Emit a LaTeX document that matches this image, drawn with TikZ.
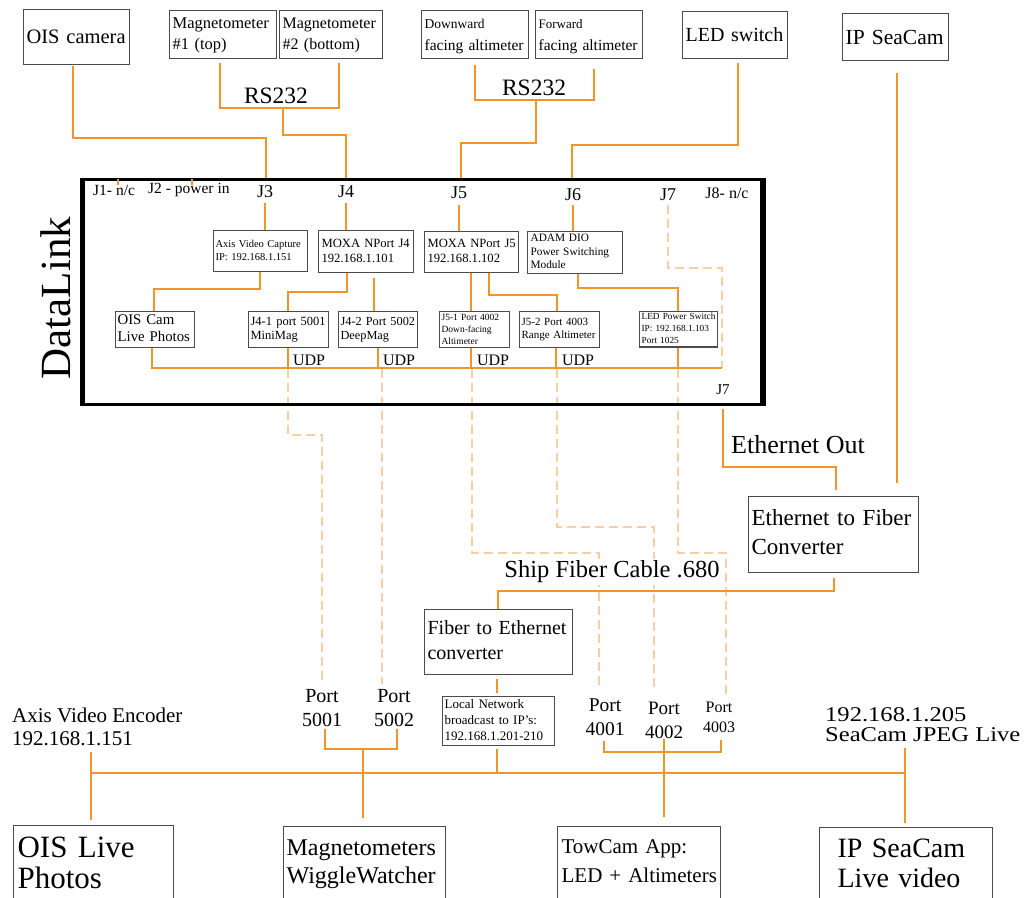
\documentclass[tikz,border=0pt]{standalone}
\usepackage{fontspec}
\usepackage{graphicx}
\setmainfont{Liberation Serif}
\definecolor{ol}{RGB}{240,150,40}
\definecolor{dl}{RGB}{246,208,165}
\definecolor{bd}{RGB}{75,75,75}
\newcommand\fz[2]{\fontsize{#1}{#2}\selectfont}
\newcommand\tl[1]{\begin{tabular}{@{}l@{}}#1\end{tabular}}
\begin{document}
\begin{tikzpicture}[x=1pt,y=-1pt,
  bx/.style={draw=bd, line width=1.2pt, anchor=north west, align=left, inner xsep=3pt, inner ysep=0pt, fill=white},
  wire/.style={draw=ol, line width=2.6pt},
  dwire/.style={draw=dl, line width=1.4pt, dash pattern=on 9pt off 5pt},
  lbl/.style={inner sep=0pt, align=center},
]
\useasboundingbox (0,0) rectangle (1024,897);

% ---------- dashed UDP routes ----------
\draw[dwire] (668,205) -- (668,268) -- (722,268) -- (722,368);
\draw[dwire] (288,369) -- (288,435) -- (322,435) -- (322,684);
\draw[dwire] (382,369) -- (382,684);
\draw[dwire] (472,369) -- (472,553) -- (599,553) -- (599,688);
\draw[dwire] (557,369) -- (557,527) -- (654,527) -- (654,688);
\draw[dwire] (678,369) -- (678,553) -- (726,553) -- (726,698);

% ---------- DataLink box ----------
\node[draw, line width=3pt, minimum width=678pt, minimum height=225pt, anchor=north west, inner sep=0pt] (dlink) at (82,178) {};
\draw[line width=5pt] (dlink.north west) -- (dlink.south west);
\draw[line width=5.5pt] (dlink.north east) -- (dlink.south east);
\node[rotate=90, anchor=base, font=\fz{43}{45}, inner sep=0pt] (dltitle) at (70,298) {DataLink};

% ---------- top devices ----------
\node[bx, text width=100pt, minimum height=55pt, font=\fz{20.5}{24}] (oiscam) at (23,9) {OIS camera};
\node[bx, text width=101pt, minimum height=48pt, font=\fz{16.5}{21}] (mag1) at (169,10) {\tl{Magnetometer\\\#1 (top)}};
\node[bx, text width=97pt, minimum height=48pt, font=\fz{16}{21}] (mag2) at (279,10) {\tl{Magnetometer\\\#2 (bottom)}};
\node[bx, text width=101pt, minimum height=48pt, font=\fz{15.5}{22}] (down) at (421,10) {\tl{{\fz{13.5}{22}Downward}\\facing altimeter}};
\node[bx, text width=101pt, minimum height=48pt, font=\fz{15.5}{22}] (fwd) at (535,10) {\tl{{\fz{13}{22}Forward}\\facing altimeter}};
\node[bx, text width=99pt, minimum height=47pt, font=\fz{20}{24}] (ledsw) at (682,11) {LED switch};
\node[bx, text width=100pt, minimum height=47pt, font=\fz{21.5}{24}] (ipsea) at (842,13) {IP SeaCam};

\node[lbl, font=\fz{23.5}{26}] (rs1) at (276,96) {RS232};
\node[lbl, font=\fz{23.5}{26}] (rs2) at (534,88) {RS232};

% ---------- connector labels inside DataLink ----------
\node[lbl, anchor=west, font=\fz{15.5}{18}] (j1) at (93,190) {J1- n/c};
\node[lbl, anchor=west, font=\fz{15.5}{18}] (j2) at (148,190) {J2 - power in};
\node[lbl, font=\fz{18}{20}] (j3) at (265,192) {J3};
\node[lbl, font=\fz{18}{20}] (j4) at (346,192) {J4};
\node[lbl, font=\fz{18}{20}] (j5) at (459,193) {J5};
\node[lbl, font=\fz{18}{20}] (j6) at (573,195) {J6};
\node[lbl, font=\fz{18}{20}] (j7) at (668,195) {J7};
\node[lbl, font=\fz{16}{18}] (j8) at (727,193) {J8- n/c};
\node[lbl, font=\fz{15}{18}] (j7b) at (723,390) {J7};

% ---------- inner modules ----------
\node[bx, inner xsep=2pt, text width=90pt, minimum height=41pt, font=\fz{10.5}{13}] (axis) at (213,230) {\tl{Axis Video Capture\\IP: 192.168.1.151}};
\node[bx, text width=89pt, minimum height=42pt, font=\fz{12.6}{15}] (moxa4) at (318,230) {\tl{MOXA NPort J4\\192.168.1.101}};
\node[bx, text width=88pt, minimum height=41pt, font=\fz{12.6}{15}] (moxa5) at (424,231) {\tl{MOXA NPort J5\\192.168.1.102}};
\node[bx, text width=89pt, minimum height=42pt, font=\fz{11.3}{13.5}] (adam) at (527,231) {\tl{ADAM DIO\\Power Switching\\Module}};

\node[bx, inner xsep=2pt, text width=75pt, minimum height=36pt, font=\fz{14.8}{16.5}] (oiscl) at (115,311) {\tl{OIS Cam\\Live Photos}};
\node[bx, inner xsep=2pt, text width=76pt, minimum height=36pt, font=\fz{12.5}{14}] (j41) at (248,311) {\tl{J4-1 port 5001\\MiniMag}};
\node[bx, inner xsep=2pt, text width=75pt, minimum height=36pt, font=\fz{12.3}{14}] (j42) at (338,311) {\tl{J4-2 Port 5002\\DeepMag}};
\node[bx, inner xsep=2pt, text width=66pt, minimum height=36pt, font=\fz{9.5}{12}] (j51) at (439,311) {\tl{J5-1 Port 4002\\Down-facing\\Altimeter}};
\node[bx, inner xsep=2pt, text width=76pt, minimum height=36pt, font=\fz{11}{12.5}] (j52) at (519,311) {\tl{J5-2 Port 4003\\Range Altimeter}};
\node[bx, inner xsep=2pt, text width=74pt, minimum height=35pt, font=\fz{9.3}{11.8}] (ledps) at (639,311) {\tl{LED Power Switch\\IP: 192.168.1.103\\Port 1025}};

\foreach \x/\n in {309/1,399/2,493/3,578/4}
  \node[lbl, font=\fz{16}{18}] (udp\n) at (\x,360) {UDP};

% ---------- wires: top ----------
\draw[wire] (oiscam.south -| 73,0) ++(0,1) |- (266,138) -- (266,0 |- dlink.north);
\draw[wire] (mag1.south -| 220,0) ++(0,4) |- (339,108) -- ([yshift=-4pt]mag2.south -| 339,0);
\draw[wire] (283,108) |- (346,135) -- (346,0 |- dlink.north);
\draw[wire] (down.south -| 475,0) ++(0,6) |- (594,100) -- ([yshift=-10pt]fwd.south -| 594,0);
\draw[wire] (536,100) |- (461,143) -- (461,0 |- dlink.north);
\draw[wire] (ledsw.south -| 738,0) ++(0,4) |- (572,145) -- (572,0 |- dlink.north);
\draw[wire] (ipsea.south -| 897,0) ++(0,12) -- (897,483);

% stubs J1, J2
\draw[ol, line width=2pt] (118,179) -- (118,185);
\draw[ol, line width=2pt] (192,179) -- (192,185);

% ---------- wires: inside DataLink ----------
\draw[wire] (265,203) -- (axis.north -| 265,0);
\draw[wire] (346,203) -- (moxa4.north -| 346,0);
\draw[wire] (459,205) -- (moxa5.north -| 459,0);
\draw[wire] (573,205) -- (adam.north -| 573,0);
\draw[wire] (axis.south -| 260,0) |- (154,289) -- (oiscl.north -| 154,0);
\draw[wire] (moxa4.south -| 347,0) |- (288,292) -- (j41.north -| 288,0);
\draw[wire] (moxa4.south -| 374,0) ++(0,5) -- (j42.north -| 374,0);
\draw[wire] (moxa5.south -| 471,0) -- (j51.north -| 471,0);
\draw[wire] (moxa5.south -| 489,0) |- (557,295) -- (j52.north -| 557,0);
\draw[wire] (adam.south -| 578,0) |- (678,288) -- (ledps.north -| 678,0);
\draw[wire] (oiscl.south -| 152,0) |- (722,368);
\draw[wire] (j41.south -| 288,0) -- (288,368);
\draw[wire] (j42.south -| 378,0) -- (378,368);
\draw[wire] (j51.south -| 471,0) -- (471,368);
\draw[wire] (j52.south -| 556,0) -- (556,368);
\draw[wire] (ledps.south -| 678,0) -- (678,368);

% ---------- converters ----------
\node[lbl, font=\fz{26}{28}] (ethout) at (798,445) {Ethernet Out};
\node[bx, text width=164pt, minimum height=76pt, font=\fz{23}{29}] (eft) at (748,496) {\tl{Ethernet to Fiber\\Converter}};
\node[fill=white, inner sep=2pt, font=\fz{24.5}{26}] (ship) at (612,572) {Ship Fiber Cable .680};
\node[bx, text width=142pt, minimum height=65pt, font=\fz{20}{25}] (fte) at (424,609) {\tl{Fiber to Ethernet\\converter}};
\node[bx, inner xsep=2pt, text width=108pt, minimum height=49pt, font=\fz{13}{16}] (local) at (442,696) {\tl{Local Network\\broadcast to IP's:\\192.168.1.201-210}};

\draw[wire] (723,409) |- (836,467) -- ([yshift=6pt]eft.north -| 836,0);
\draw[wire] (eft.south -| 834,0) ++(0,5) |- (498,591) -- (fte.north -| 498,0);
\draw[wire] (fte.south -| 497,0) ++(0,4) -- ([yshift=3pt]local.north -| 497,0);
\draw[wire] (local.south -| 497,0) ++(0,3) -- (497,773);

% ---------- bottom labels ----------
\node[lbl, anchor=west, font=\fz{21}{23}] (axenc) at (12,729) {\tl{Axis Video Encoder\\192.168.1.151}};
\node[lbl, anchor=west, font=\fz{21}{20}] (seajpeg) at (825,727) {\scalebox{1.17}[1]{\tl{192.168.1.205\\SeaCam JPEG Live}}};
\node[lbl, font=\fz{20}{24}] (p5001) at (322,708) {Port\\5001};
\node[lbl, font=\fz{20}{24}] (p5002) at (394,708) {Port\\5002};
\node[lbl, font=\fz{19.5}{24}] (p4001) at (605,717) {Port\\4001};
\node[lbl, font=\fz{19}{24}] (p4002) at (664,720) {Port\\4002};
\node[lbl, font=\fz{16}{20}] (p4003) at (719,717) {Port\\4003};

% ---------- bottom apps ----------
\node[bx, inner xsep=4pt, text width=152pt, minimum height=83pt, font=\fz{31}{29}] (oislp) at (13,825) {\tl{OIS Live\\Photos}};
\node[bx, inner xsep=3pt, text width=156pt, minimum height=74pt, font=\fz{24}{28}] (mww) at (283,826) {\tl{Magnetometers\\WiggleWatcher}};
\node[bx, inner xsep=4pt, text width=155pt, minimum height=72pt, font=\fz{21}{29}] (towcam) at (557,826) {\tl{TowCam App:\\LED + Altimeters}};
\node[bx, inner xsep=18pt, text width=137pt, minimum height=78pt, font=\fz{28}{30}] (ipslv) at (819,827) {\tl{IP SeaCam\\Live video}};

% ---------- bottom wires ----------
\draw[wire] (91,773) -- (905,773);
\draw[wire] (91,752) -- ([yshift=5pt]oislp.north -| 91,0);
\draw[wire] (905,748) -- ([yshift=4pt]ipslv.north -| 905,0);
\draw[wire] (325,729) |- (397,749) -- (397,729);
\draw[wire] (363,749) -- ([yshift=8pt]mww.north -| 363,0);
\draw[wire] (604,741) |- (721,752) -- (721,740);
\draw[wire] (664,739) -- ([yshift=9pt]towcam.north -| 664,0);
\end{tikzpicture}
\end{document}
